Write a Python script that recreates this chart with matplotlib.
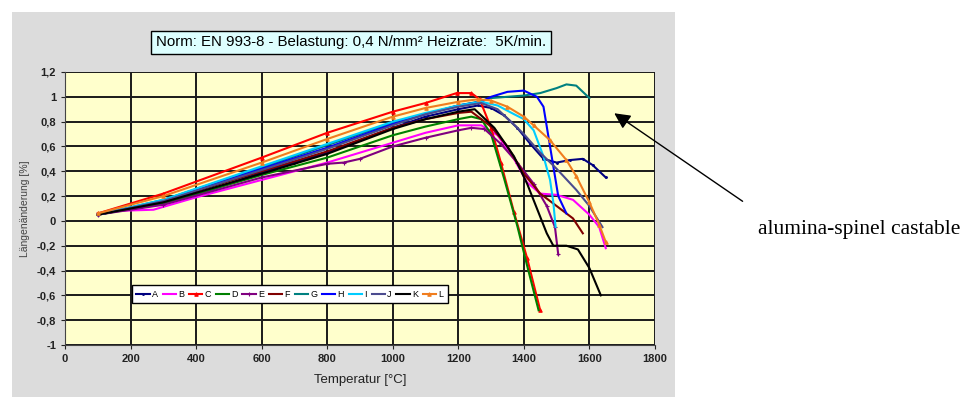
import matplotlib
matplotlib.use("Agg")
import matplotlib.pyplot as plt
from matplotlib.patches import Rectangle

plt.rcParams["font.family"] = ["Liberation Sans", "DejaVu Sans"]

# --------------------------------------------------------------------------- #
# data: temperature [°C] / length change [%]             #
# --------------------------------------------------------------------------- #
T_A = [100, 200, 300, 400, 600, 700, 800, 900, 1000, 1100, 1200, 1260, 1300,
       1340, 1380, 1420, 1460, 1500, 1540, 1580, 1610, 1650]
V_A = [0.05, 0.10, 0.15, 0.21, 0.39, 0.47, 0.55, 0.65, 0.75, 0.84, 0.90, 0.93,
       0.91, 0.85, 0.75, 0.62, 0.50, 0.47, 0.49, 0.50, 0.45, 0.35]

T_B = [100, 150, 270, 400, 600, 800, 1000, 1100, 1200, 1270, 1320, 1370, 1410,
       1450, 1500, 1550, 1600, 1630, 1650]
V_B = [0.06, 0.08, 0.09, 0.19, 0.33, 0.47, 0.63, 0.71, 0.77, 0.77, 0.69, 0.50,
       0.31, 0.22, 0.21, 0.17, 0.05, -0.05, -0.22]

T_C = [100, 300, 600, 800, 1000, 1100, 1195, 1240, 1265, 1300, 1330, 1370, 1410, 1450]
V_C = [0.06, 0.22, 0.51, 0.71, 0.88, 0.95, 1.03, 1.03, 0.98, 0.75, 0.47, 0.07, -0.30, -0.72]

T_D = [100, 300, 600, 800, 1000, 1100, 1200, 1240, 1270, 1300, 1340, 1380, 1410, 1445]
V_D = [0.05, 0.14, 0.37, 0.51, 0.69, 0.76, 0.82, 0.84, 0.82, 0.70, 0.34, -0.04, -0.36, -0.72]

T_E = [100, 300, 600, 800, 850, 900, 1000, 1100, 1200, 1240, 1280, 1330, 1380,
       1430, 1470, 1495, 1505]
V_E = [0.05, 0.13, 0.35, 0.46, 0.47, 0.50, 0.60, 0.67, 0.73, 0.75, 0.74, 0.62,
       0.47, 0.30, 0.12, -0.05, -0.27]

T_F = [100, 300, 600, 800, 1000, 1100, 1200, 1240, 1300, 1350, 1400, 1450, 1500, 1550, 1580]
V_F = [0.05, 0.16, 0.40, 0.56, 0.75, 0.82, 0.87, 0.88, 0.76, 0.60, 0.38, 0.22, 0.12, 0.02, -0.10]

T_G = [100, 300, 600, 800, 1000, 1100, 1200, 1260, 1300, 1400, 1450, 1500, 1530, 1560, 1600]
V_G = [0.05, 0.17, 0.43, 0.61, 0.79, 0.86, 0.93, 0.96, 0.99, 1.01, 1.03, 1.07, 1.10, 1.09, 0.99]

T_H = [100, 300, 600, 800, 1000, 1100, 1200, 1270, 1300, 1350, 1400, 1440, 1460,
       1480, 1505, 1530]
V_H = [0.05, 0.16, 0.42, 0.59, 0.78, 0.86, 0.93, 0.96, 1.00, 1.04, 1.05, 1.00, 0.92,
       0.60, 0.20, 0.06]

T_I = [100, 300, 600, 800, 1000, 1100, 1200, 1270, 1320, 1370, 1400, 1430, 1460,
       1480, 1490, 1497]
V_I = [0.05, 0.17, 0.44, 0.62, 0.80, 0.87, 0.93, 0.96, 0.93, 0.86, 0.82, 0.73, 0.52,
       0.33, 0.15, -0.05]

T_J = [100, 300, 600, 800, 1000, 1100, 1200, 1270, 1320, 1400, 1450, 1500, 1560, 1600, 1640]
V_J = [0.05, 0.16, 0.41, 0.58, 0.77, 0.86, 0.92, 0.95, 0.90, 0.70, 0.55, 0.42, 0.25, 0.12, -0.05]

T_K = [100, 300, 600, 800, 1000, 1100, 1200, 1250, 1310, 1370, 1410, 1440, 1470,
       1490, 1530, 1565, 1600, 1635]
V_K = [0.05, 0.15, 0.38, 0.54, 0.74, 0.82, 0.88, 0.90, 0.75, 0.52, 0.30, 0.10, -0.10,
       -0.20, -0.20, -0.23, -0.38, -0.60]

T_L = [100, 300, 600, 800, 1000, 1100, 1200, 1260, 1300, 1350, 1400, 1430, 1480,
       1530, 1560, 1600, 1630, 1650]
V_L = [0.06, 0.20, 0.47, 0.66, 0.84, 0.91, 0.96, 0.98, 0.97, 0.92, 0.84, 0.77, 0.65,
       0.49, 0.36, 0.15, -0.03, -0.17]

X_TICKS = [0, 200, 400, 600, 800, 1000, 1200, 1400, 1600, 1800]
Y_TICKS = [-1, -0.8, -0.6, -0.4, -0.2, 0, 0.2, 0.4, 0.6, 0.8, 1, 1.2]
Y_TICK_LABELS = ["-1", "-0,8", "-0,6", "-0,4", "-0,2", "0", "0,2", "0,4",
                 "0,6", "0,8", "1", "1,2"]

# name, data, colour, marker
SERIES = [
    ("A", T_A, V_A, "#000080", "."),
    ("B", T_B, V_B, "#ff00ff", None),
    ("C", T_C, V_C, "#ff0000", "^"),
    ("D", T_D, V_D, "#008000", None),
    ("E", T_E, V_E, "#800080", "+"),
    ("F", T_F, V_F, "#800000", None),
    ("G", T_G, V_G, "#008080", None),
    ("H", T_H, V_H, "#0000ff", None),
    ("I", T_I, V_I, "#00ccff", None),
    ("J", T_J, V_J, "#4b4b8f", None),
    ("K", T_K, V_K, "#000000", None),
    ("L", T_L, V_L, "#f07d1e", "^"),
]

fig = plt.figure(figsize=(9.75, 4.09), dpi=100)
# grey chart area behind the plot (Excel style)
fig.patches.append(Rectangle((0.0123, 0.03), 0.68, 0.94, transform=fig.transFigure,
                             facecolor="#dcdcdc", edgecolor="none", zorder=-10))

ax = fig.add_axes([0.0667, 0.1565, 0.605, 0.6675])
ax.set_facecolor("#ffffcc")

for name, t, v, col, mk in SERIES:
    ax.plot(t, v, color=col, lw=1.5, marker=mk, ms=2.5, mew=0.8, label=name)

ax.set_xlim(0, 1800)
ax.set_ylim(-1, 1.2)
ax.set_xticks(X_TICKS)
ax.set_yticks(Y_TICKS)
ax.set_yticklabels(Y_TICK_LABELS)
ax.grid(True, color="#1a1a1a", lw=1.4)
ax.set_axisbelow(True)
for side in ("top", "right"):
    ax.spines[side].set_visible(False)
for side in ("left", "bottom"):
    ax.spines[side].set_color("#444444")
ax.tick_params(labelsize=8, colors="#222222", length=3, width=0.8)
for lab in ax.get_xticklabels() + ax.get_yticklabels():
    lab.set_fontweight("bold")

ax.set_xlabel("Temperatur [°C]", fontsize=9.5, color="#222222", labelpad=7)
ax.set_ylabel("Längenänderung [%]", fontsize=7.5, color="#444444", labelpad=5)

leg = ax.legend(ncol=12, loc="lower left", bbox_to_anchor=(0.113, 0.152),
                fontsize=6.5, handlelength=1.5, handletextpad=0.25,
                columnspacing=0.5, borderpad=0.5, fancybox=False,
                framealpha=1, edgecolor="black", borderaxespad=0)
leg.get_frame().set_linewidth(1.0)

fig.text(0.36, 0.897, "Norm: EN 993-8 - Belastung: 0,4 N/mm² Heizrate:  5K/min.",
         ha="center", va="center", fontsize=10.8,
         bbox=dict(boxstyle="square,pad=0.3", facecolor="#ddffff",
                   edgecolor="black", lw=1.0))

ax.annotate("", xy=(1669, 0.88), xycoords="data",
            xytext=(0.764, 0.504), textcoords="figure fraction",
            arrowprops=dict(arrowstyle="-|>", color="black", lw=1.0,
                            mutation_scale=24), annotation_clip=False)
fig.text(0.777, 0.438, "alumina-spinel castable", ha="left", va="center",
         fontsize=15.5, family="Liberation Serif")

fig.savefig("out.png", dpi=100)
